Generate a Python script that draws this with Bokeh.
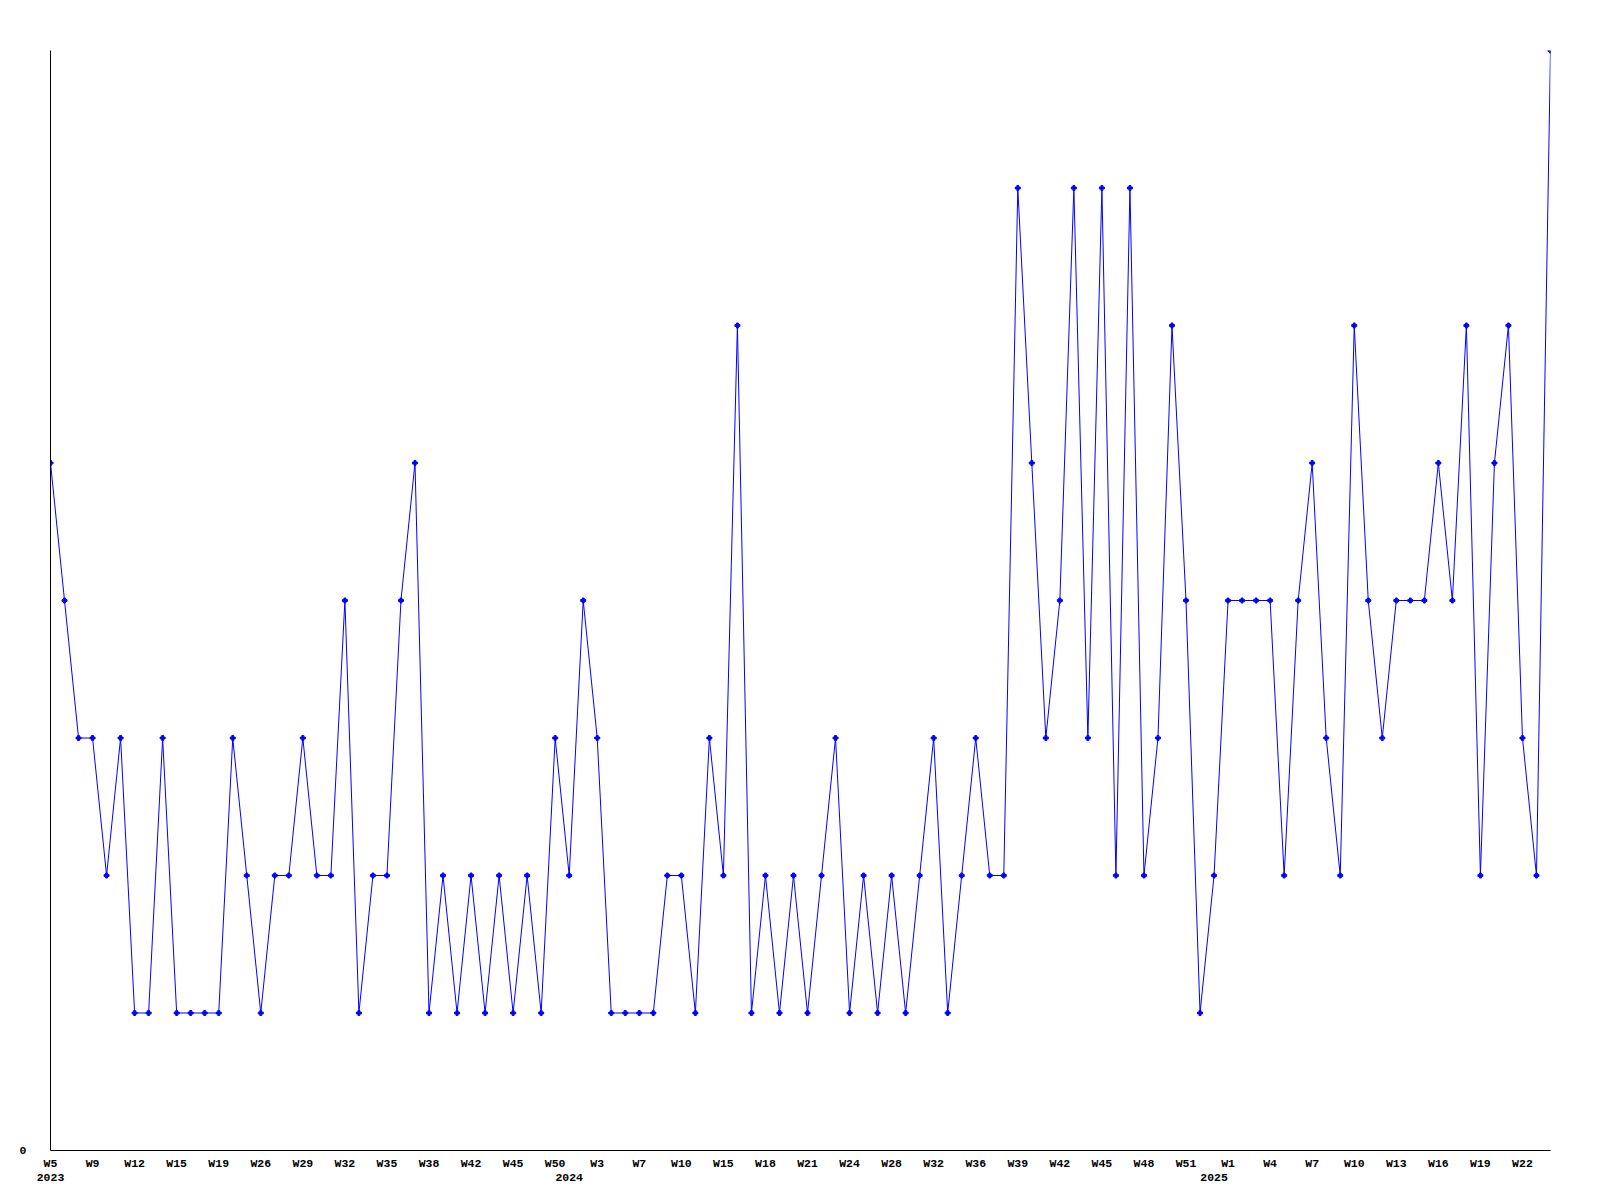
from bokeh.plotting import figure
from bokeh.models import Range1d, LinearAxis, FixedTicker
from bokeh.embed import file_html
from bokeh.resources import INLINE

# ---- data ----
weeks_2023 = [5, 6, 8, 9, 10, 11, 12, 13, 14, 15, 16, 17, 19, 21, 23, 26, 27, 28, 29, 30,
              31, 32, 33, 34, 35, 36, 37, 38, 40, 41, 42, 43, 44, 45, 47, 48, 50]
weeks_2024 = [1, 2, 3, 4, 6, 7, 8, 9, 10, 12, 13, 15, 16, 17, 18, 19, 20, 21, 22, 23,
              24, 26, 27, 28, 29, 31, 32, 34, 35, 36, 37, 38, 39, 40, 41, 42, 43, 44, 45, 46,
              47, 48, 49, 50, 51, 52]
weeks_2025 = [0, 1, 2, 3, 4, 5, 6, 7, 8, 9, 10, 11, 12, 13, 14, 15, 16, 17, 18, 19,
              20, 21, 22, 23, 24]

values = [5, 4, 3, 3, 2, 3, 1, 1, 3, 1,
          1, 1, 1, 3, 2, 1, 2, 2, 3, 2,
          2, 4, 1, 2, 2, 4, 5, 1, 2, 1,
          2, 1, 2, 1, 2, 1, 3, 2, 4, 3,
          1, 1, 1, 1, 2, 2, 1, 3, 2, 6,
          1, 2, 1, 2, 1, 2, 3, 1, 2, 1,
          2, 1, 2, 3, 1, 2, 3, 2, 2, 7,
          5, 3, 4, 7, 3, 7, 2, 7, 2, 3,
          6, 4, 1, 2, 4, 4, 4, 4, 2, 4,
          5, 3, 2, 6, 4, 3, 4, 4, 4, 5,
          4, 6, 2, 5, 6, 3, 2, 8]

years = ["2023", "2024", "2025"]
year_weeks = [weeks_2023, weeks_2024, weeks_2025]
label_every = 3

# ---- derived categories ----
week_labels = []
year_of = []
for y, wk in zip(years, year_weeks):
    for w in wk:
        week_labels.append("W%d" % w)
        year_of.append(y)
xs = list(range(len(values)))

week_ticks = xs[::label_every]
week_overrides = {i: week_labels[i] for i in week_ticks}
year_ticks = [year_of.index(y) for y in years]
year_overrides = {i: y for i, y in zip(year_ticks, years)}

FONT = "Liberation Mono"
FS = "11.5px"

p = figure(frame_width=1500, frame_height=1100,
           x_range=Range1d(0, len(values) - 1), y_range=Range1d(0, 8),
           x_axis_location=None, y_axis_location=None,
           output_backend="svg", toolbar_location=None,
           min_border_left=50, min_border_right=34,
           min_border_top=50, min_border_bottom=40)
p.outline_line_color = None
p.xgrid.visible = False
p.ygrid.visible = False
p.background_fill_color = "white"
p.border_fill_color = "white"

# week axis
xa = LinearAxis(ticker=FixedTicker(ticks=week_ticks),
                major_label_overrides=week_overrides)
xa.major_tick_line_color = None
xa.minor_tick_line_color = None
xa.major_tick_out = 0
xa.major_tick_in = 0
xa.axis_line_color = "black"
xa.axis_line_width = 1
xa.major_label_standoff = 6
xa.major_label_text_font = FONT
xa.major_label_text_font_size = FS
xa.major_label_text_font_style = "bold"
xa.major_label_text_color = "black"
p.add_layout(xa, "below")

# year axis
ya2 = LinearAxis(ticker=FixedTicker(ticks=year_ticks),
                 major_label_overrides=year_overrides)
ya2.axis_line_color = None
ya2.major_tick_line_color = None
ya2.minor_tick_line_color = None
ya2.major_tick_out = 0
ya2.major_tick_in = 0
ya2.major_label_standoff = 1
ya2.major_label_text_font = FONT
ya2.major_label_text_font_size = FS
ya2.major_label_text_font_style = "bold"
ya2.major_label_text_color = "black"
p.add_layout(ya2, "below")

# y axis
yax = LinearAxis(ticker=FixedTicker(ticks=[0]), major_label_overrides={0: "0"})
yax.major_tick_line_color = None
yax.minor_tick_line_color = None
yax.major_tick_out = 0
yax.major_tick_in = 0
yax.axis_line_color = "black"
yax.major_label_standoff = 24
yax.major_label_text_font = FONT
yax.major_label_text_font_size = FS
yax.major_label_text_font_style = "bold"
yax.major_label_text_color = "black"
p.add_layout(yax, "left")

p.line(xs, values, line_color="#0000ff", line_width=1)
p.scatter(xs, values, marker="plus", size=5, fill_color="#0000ff", line_color="#0000ff")

open("out.html", "w").write(file_html(p, INLINE))
